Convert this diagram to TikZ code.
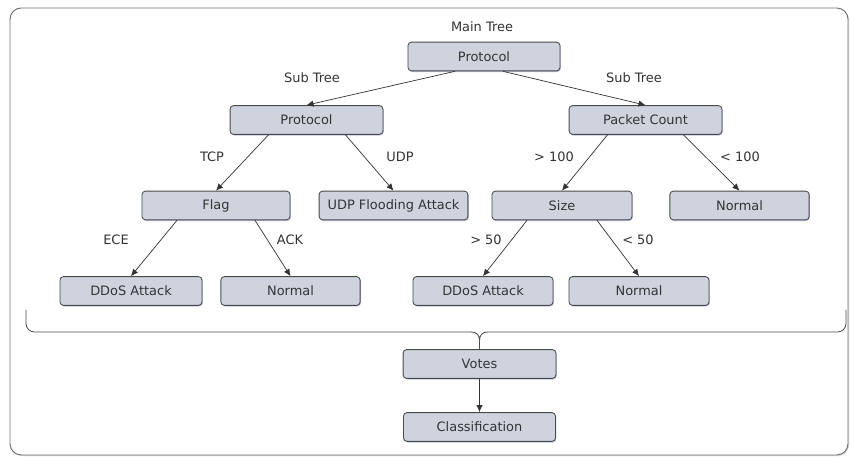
\documentclass[tikz,border=0pt]{standalone}
\usepackage{fontspec}
\setmainfont{DejaVu Sans}
\usetikzlibrary{arrows.meta,shadows,calc}
\definecolor{boxfill}{HTML}{CED3DD}
\definecolor{boxline}{HTML}{4A4A4A}
\definecolor{txt}{HTML}{333333}
\tikzset{
  treebox/.style={draw=boxline, fill=boxfill, rounded corners=2.5pt, line width=0.6pt,
    minimum height=0.72cm, inner sep=0pt, text=txt, font=\fontsize{9.2}{11}\selectfont,
    drop shadow={shadow xshift=0.6pt, shadow yshift=-0.8pt, fill=blue!40!gray, opacity=0.35}},
  lbl/.style={text=txt, font=\fontsize{9.2}{11}\selectfont, inner sep=0pt},
  edge/.style={draw=black!80, line width=0.5pt, -{Latex[length=5pt,width=4.5pt]}},
  brace/.style={black!70, line width=0.6pt},
}
\begin{document}
\begin{tikzpicture}[x=0.025cm,y=-0.025cm]
    \useasboundingbox (0,0) rectangle (851,457);
    % --- frame
    \draw[draw=black!55, line width=0.7pt, rounded corners=8pt,
      drop shadow={shadow xshift=0.8pt, shadow yshift=-0.8pt, fill=gray, opacity=0.3}, fill=white]
      (10,8) rectangle (848,455);
    % --- main tree
    \node[lbl] (mainlbl) at (482,27) {Main Tree};
    \node[treebox, minimum width=3.8cm] (root) at (484,56.5) {Protocol};
    \node[lbl] (subl) at (312,78) {Sub Tree};
    \node[lbl] (subr) at (634,78) {Sub Tree};
    % --- left sub tree
    \node[treebox, minimum width=3.82cm] (lprot) at (306.5,120) {Protocol};
    \node[treebox, minimum width=3.7cm] (flag) at (216,205.5) {Flag};
    \node[treebox, minimum width=3.72cm] (udp) at (393.5,205.5) {UDP Flooding Attack};
    \node[treebox, minimum width=3.55cm] (ddosa) at (131,291) {DDoS Attack};
    \node[treebox, minimum width=3.48cm] (norma) at (290.5,291) {Normal};
    \node[lbl] (tcp) at (212,157) {TCP};
    \node[lbl] (udpl) at (400,157) {UDP};
    \node[lbl] (ece) at (116,240) {ECE};
    \node[lbl] (ack) at (290,240) {ACK};
    % --- right sub tree
    \node[treebox, minimum width=3.82cm] (pcount) at (645.5,120) {Packet Count};
    \node[treebox, minimum width=3.5cm] (size) at (562,205.5) {Size};
    \node[treebox, minimum width=3.48cm] (normc) at (739.5,205.5) {Normal};
    \node[treebox, minimum width=3.5cm] (ddosb) at (483,291) {DDoS Attack};
    \node[treebox, minimum width=3.5cm] (normb) at (639,291) {Normal};
    \node[lbl] (gt100) at (554,157) {> 100};
    \node[lbl] (lt100) at (740,157) {< 100};
    \node[lbl] (gt50) at (486,240) {> 50};
    \node[lbl] (lt50) at (638,240) {< 50};
    % --- voting
    \node[treebox, minimum width=3.82cm] (votes) at (479.5,364) {Votes};
    \node[treebox, minimum width=3.8cm] (cls) at (479.5,427) {Classification};
    % --- connectors
    \draw[edge] ($(root.south)+(-29,0)$) -- (lprot.north);
    \draw[edge] ($(root.south)+(19,0)$) -- (pcount.north);
    \draw[edge] ($(lprot.south)+(-38,0)$) -- (flag.north);
    \draw[edge] ($(lprot.south)+(39,0)$) -- (udp.north);
    \draw[edge] ($(flag.south)+(-39,0)$) -- (ddosa.north);
    \draw[edge] ($(flag.south)+(39,0)$) -- (norma.north);
    \draw[edge] ($(pcount.south)+(-38,0)$) -- (size.north);
    \draw[edge] ($(pcount.south)+(38,0)$) -- (normc.north);
    \draw[edge] ($(size.south)+(-35,0)$) -- (ddosb.north);
    \draw[edge] ($(size.south)+(35,0)$) -- (normb.north);
    \draw[edge] (votes.south) -- (cls.north);
    % --- brace
    \coordinate (bl) at (26,310);
    \coordinate (br) at (846,310);
    \coordinate (tip) at (479.5,341);
    \draw[brace, rounded corners=6pt] (bl) |- (471,332);
    \draw[brace, rounded corners=6pt] (br) |- (488,332);
    \draw[brace] (471,332) .. controls (477,332) and (479.5,335) .. (tip)
      .. controls (479.5,335) and (482,332) .. (488,332);
    \draw[brace] (tip) -- (votes.north);
\end{tikzpicture}
\end{document}
